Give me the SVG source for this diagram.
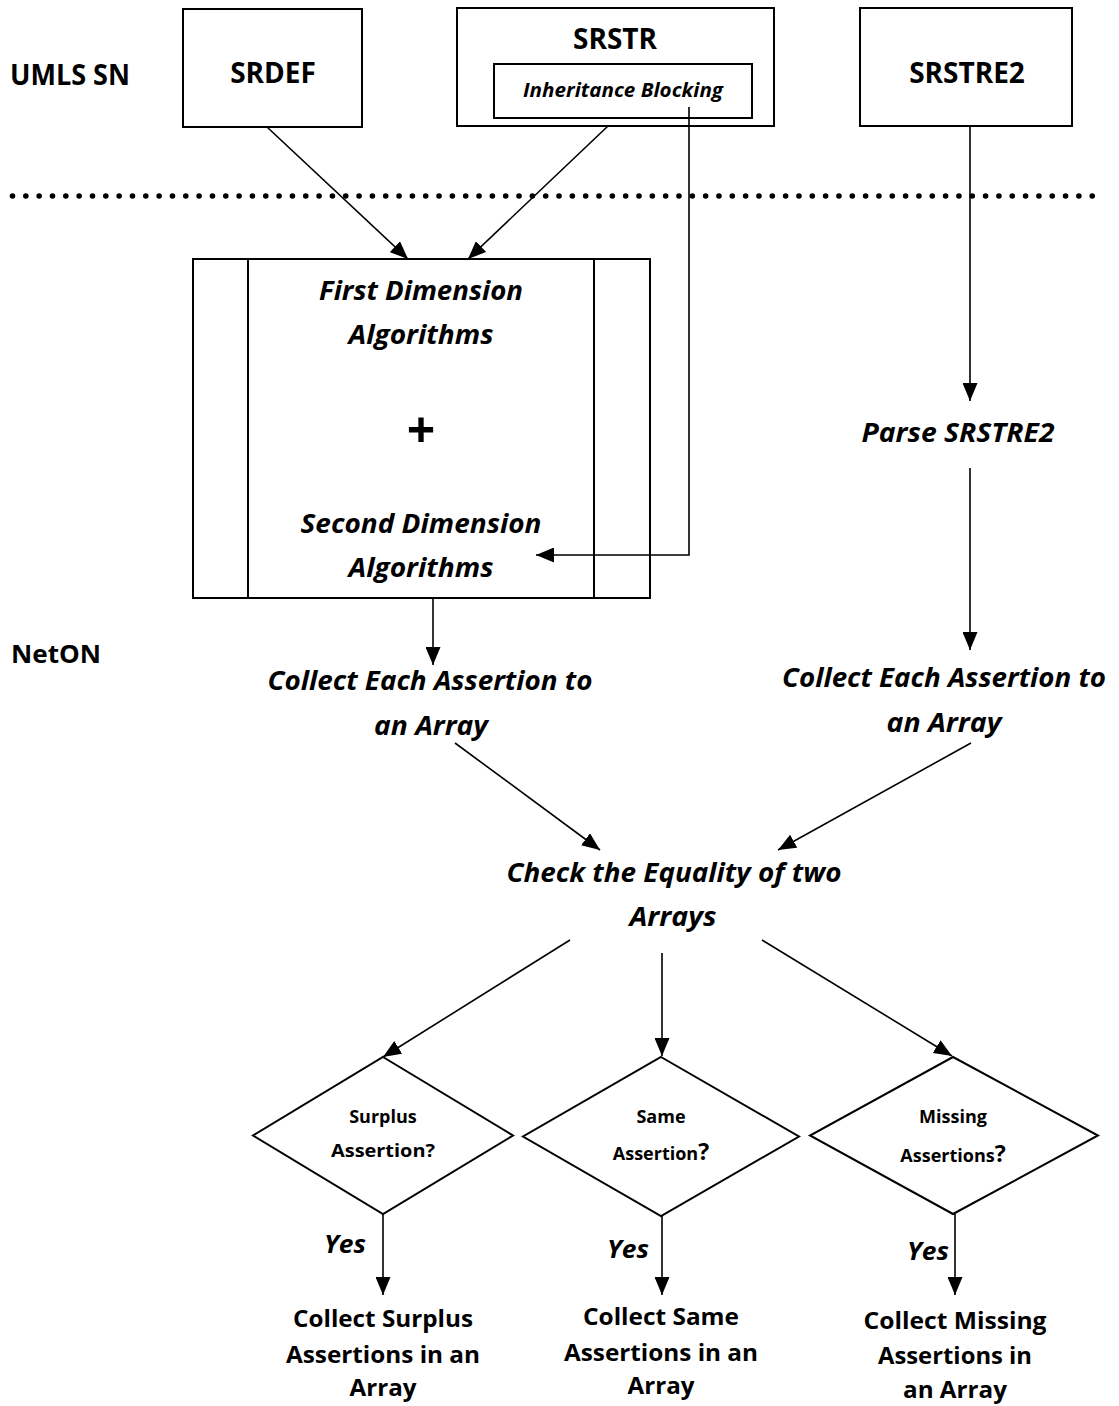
<svg xmlns="http://www.w3.org/2000/svg" width="1119" height="1406" viewBox="0 0 1119 1406">
  <style>
    .box { fill: #fff; stroke: #000; stroke-width: 2; }
    .edge { fill: none; stroke: #000; stroke-width: 1.6; }
    .t { font-family: "Open Sans", "Liberation Sans", sans-serif; font-weight: bold; fill: #000; text-anchor: middle; }
    .i { font-style: italic; }
    .lbl { font-size: 28px; }
    .proc { font-size: 27px; }
    .dia { font-size: 18px; }
    .out { font-size: 24px; }
  </style>
  <defs>
    <marker id="arrow" viewBox="0 0 18 15" refX="18" refY="7.5" markerWidth="18" markerHeight="15" markerUnits="userSpaceOnUse" orient="auto">
      <path d="M0,0 L18,7.5 L0,15 z" fill="#000"/>
    </marker>
  </defs>
  <rect width="1119" height="1406" fill="#fff"/>

  <!-- layer captions -->
  <g id="layer-umls">
    <text class="t lbl" x="70" y="85" textLength="120" lengthAdjust="spacingAndGlyphs">UMLS SN</text>
  </g>
  <g id="layer-neton">
    <text class="t" x="56" y="663" font-size="25" textLength="90" lengthAdjust="spacingAndGlyphs">NetON</text>
  </g>

  <!-- layer separator -->
  <line x1="12.5" y1="196" x2="1093" y2="196" stroke="#000" stroke-width="5.6" stroke-linecap="round" stroke-dasharray="0 13.33"/>

  <g id="srdef">
    <rect class="box" x="183" y="9" width="179" height="118"/>
    <text class="t lbl" x="273" y="83">SRDEF</text>
  </g>

  <g id="srstr">
    <rect class="box" x="457" y="8" width="317" height="118"/>
    <text class="t lbl" x="615" y="49">SRSTR</text>
    <g id="inheritance-blocking">
      <rect class="box" x="494" y="64" width="258" height="54"/>
      <text class="t i" x="623" y="97" font-size="19" textLength="200" lengthAdjust="spacingAndGlyphs">Inheritance Blocking</text>
    </g>
  </g>

  <g id="srstre2">
    <rect class="box" x="860" y="8" width="212" height="118"/>
    <text class="t lbl" x="967" y="83">SRSTRE2</text>
  </g>

  <g id="algorithms">
    <rect class="box" x="193" y="259" width="457" height="339"/>
    <line x1="248" y1="259" x2="248" y2="598" stroke="#000" stroke-width="2"/>
    <line x1="594" y1="259" x2="594" y2="598" stroke="#000" stroke-width="2"/>
    <text class="t i proc" x="421" y="300" textLength="204" lengthAdjust="spacingAndGlyphs">First Dimension</text>
    <text class="t i proc" x="421" y="344" textLength="145" lengthAdjust="spacingAndGlyphs">Algorithms</text>
    <text x="421" y="448" font-family="Open Sans, Liberation Sans, sans-serif" font-weight="bold" font-size="50" text-anchor="middle">+</text>
    <text class="t i proc" x="421" y="533" textLength="241" lengthAdjust="spacingAndGlyphs">Second Dimension</text>
    <text class="t i proc" x="421" y="577" textLength="145" lengthAdjust="spacingAndGlyphs">Algorithms</text>
  </g>

  <g id="parse-srstre2">
    <text class="t i proc" x="958" y="442" textLength="193" lengthAdjust="spacingAndGlyphs">Parse SRSTRE2</text>
  </g>

  <g id="collect-left">
    <text class="t i proc" x="430" y="690" textLength="325" lengthAdjust="spacingAndGlyphs">Collect Each Assertion to</text>
    <text class="t i proc" x="431" y="735" textLength="114" lengthAdjust="spacingAndGlyphs">an Array</text>
  </g>

  <g id="collect-right">
    <text class="t i proc" x="944" y="687" textLength="324" lengthAdjust="spacingAndGlyphs">Collect Each Assertion to</text>
    <text class="t i proc" x="944" y="732" textLength="115" lengthAdjust="spacingAndGlyphs">an Array</text>
  </g>

  <g id="check-equality">
    <text class="t i proc" x="674" y="882" textLength="335" lengthAdjust="spacingAndGlyphs">Check the Equality of two</text>
    <text class="t i proc" x="673" y="926" textLength="87" lengthAdjust="spacingAndGlyphs">Arrays</text>
  </g>

  <g id="surplus-decision">
    <polygon class="box" points="383,1057 513,1135.5 383,1214 253,1135.5" stroke-width="1.6"/>
    <text class="t dia" x="383" y="1123">Surplus</text>
    <text class="t dia" x="383" y="1157" textLength="104" lengthAdjust="spacingAndGlyphs">Assertion?</text>
  </g>

  <g id="same-decision">
    <polygon class="box" points="661,1057 799,1136.5 661,1216 523,1136.5" stroke-width="1.6"/>
    <text class="t dia" x="661" y="1123">Same</text>
    <text class="t dia" x="661" y="1160">Assertion<tspan font-size="23">?</tspan></text>
  </g>

  <g id="missing-decision">
    <polygon class="box" points="953,1057 1098,1135.5 953,1214 810,1135.5" stroke-width="1.6"/>
    <text class="t dia" x="953" y="1123">Missing</text>
    <text class="t dia" x="953" y="1162">Assertions<tspan font-size="23">?</tspan></text>
  </g>

  <g id="yes-labels">
    <text class="t i" x="345" y="1253" font-size="25" textLength="42" lengthAdjust="spacingAndGlyphs">Yes</text>
    <text class="t i" x="628" y="1258" font-size="25" textLength="42" lengthAdjust="spacingAndGlyphs">Yes</text>
    <text class="t i" x="928" y="1260" font-size="25" textLength="42" lengthAdjust="spacingAndGlyphs">Yes</text>
  </g>

  <g id="collect-surplus">
    <text class="t out" x="383" y="1327" textLength="180" lengthAdjust="spacingAndGlyphs">Collect Surplus</text>
    <text class="t out" x="383" y="1363" textLength="194" lengthAdjust="spacingAndGlyphs">Assertions in an</text>
    <text class="t out" x="383" y="1396" textLength="67" lengthAdjust="spacingAndGlyphs">Array</text>
  </g>

  <g id="collect-same">
    <text class="t out" x="661" y="1325" textLength="156" lengthAdjust="spacingAndGlyphs">Collect Same</text>
    <text class="t out" x="661" y="1361" textLength="194" lengthAdjust="spacingAndGlyphs">Assertions in an</text>
    <text class="t out" x="661" y="1394" textLength="67" lengthAdjust="spacingAndGlyphs">Array</text>
  </g>

  <g id="collect-missing">
    <text class="t out" x="955" y="1329" textLength="183" lengthAdjust="spacingAndGlyphs">Collect Missing</text>
    <text class="t out" x="955" y="1364" textLength="154" lengthAdjust="spacingAndGlyphs">Assertions in</text>
    <text class="t out" x="955" y="1398" textLength="104" lengthAdjust="spacingAndGlyphs">an Array</text>
  </g>

  <!-- connectors -->
  <g id="connectors" class="edges">
    <line class="edge" x1="267" y1="127" x2="408" y2="259" marker-end="url(#arrow)"/>
    <line class="edge" x1="608" y1="126" x2="468" y2="259" marker-end="url(#arrow)"/>
    <polyline class="edge" points="689,107 689,555 536,555" marker-end="url(#arrow)"/>
    <line class="edge" x1="970" y1="126" x2="970" y2="401" marker-end="url(#arrow)"/>
    <line class="edge" x1="970" y1="468" x2="970" y2="650" marker-end="url(#arrow)"/>
    <line class="edge" x1="433" y1="598" x2="433" y2="665" marker-end="url(#arrow)"/>
    <line class="edge" x1="455" y1="743" x2="600" y2="850" marker-end="url(#arrow)"/>
    <line class="edge" x1="971" y1="743" x2="778" y2="850" marker-end="url(#arrow)"/>
    <line class="edge" x1="570" y1="940" x2="383" y2="1057" marker-end="url(#arrow)"/>
    <line class="edge" x1="662" y1="953" x2="662" y2="1056" marker-end="url(#arrow)"/>
    <line class="edge" x1="762" y1="940" x2="952" y2="1056" marker-end="url(#arrow)"/>
    <line class="edge" x1="383" y1="1214" x2="383" y2="1295" marker-end="url(#arrow)"/>
    <line class="edge" x1="662" y1="1216" x2="662" y2="1295" marker-end="url(#arrow)"/>
    <line class="edge" x1="955" y1="1214" x2="955" y2="1295" marker-end="url(#arrow)"/>
  </g>
</svg>
